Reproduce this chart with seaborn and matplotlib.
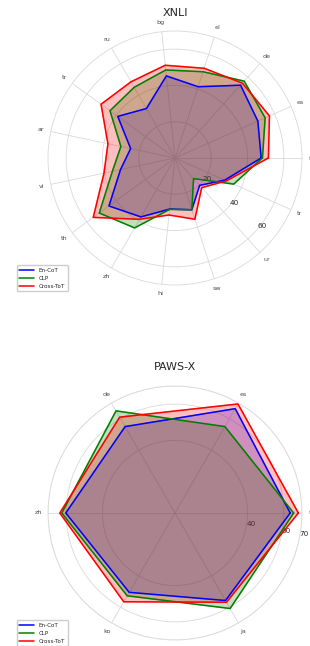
import numpy as np
import matplotlib
matplotlib.use('Agg')
import matplotlib.pyplot as plt
import seaborn as sns

# XNLI scores per language (counterclockwise from 0 deg)
xnli_langs = ['fr', 'es', 'de', 'el', 'bg', 'ru', 'tr', 'ar', 'vi', 'th', 'zh', 'hi', 'sw', 'ur', 'tr']
xnli_en_cot = [47.5, 50.0, 54.0, 41.3, 45.5, 31.5, 39.0, 25.0, 30.7, 45.0, 37.5, 28.3, 30.0, 20.3, 30.0]
xnli_clp = [48.2, 54.4, 57.0, 50.0, 48.8, 45.0, 44.3, 30.5, 35.3, 51.6, 44.5, 28.5, 30.0, 15.3, 35.4]
xnli_cross_tot = [51.5, 57.0, 55.5, 52.0, 51.4, 48.5, 50.4, 37.8, 40.0, 55.7, 39.0, 31.6, 35.5, 22.0, 31.0]

# PAWS-X scores per language
paws_langs = ['fr', 'es', 'de', 'zh', 'ko', 'ja']
paws_en_cot = [63.5, 66.4, 55.0, 60.2, 50.5, 55.7]
paws_clp = [65.4, 55.0, 65.0, 62.4, 52.7, 60.8]
paws_cross_tot = [68.0, 69.4, 61.0, 63.5, 56.5, 56.8]

methods = ['En-CoT', 'CLP', 'Cross-ToT']
colors = ['blue', 'green', 'red']


def radar(ax, title, langs, series, yticks, rlabel_pos, title_y):
    """Draw one radar panel."""
    n = len(langs)
    angles = np.linspace(0, 2 * np.pi, n, endpoint=False)
    closed = np.concatenate([angles, angles[:1]])
    for name, vals, col in zip(methods, series, colors):
        v = np.concatenate([vals, vals[:1]])
        sns.lineplot(x=closed, y=v, ax=ax, color=col, linewidth=1.1,
                     sort=False, estimator=None, label=name, legend=False)
        ax.fill(closed, v, color=col, alpha=0.25)
    ax.set_xticks(angles)
    ax.set_xticklabels(langs, fontsize=4.6, color='.3')
    ax.tick_params(axis='x', pad=-6)
    ax.set_ylim(0, 70)
    ax.set_yticks(yticks)
    ax.set_yticklabels([str(t) for t in yticks], fontsize=5.2, color='.15')
    ax.set_rlabel_position(rlabel_pos)
    ax.grid(color='.85', linewidth=0.6)
    ax.spines['polar'].set_color('.85')
    ax.spines['polar'].set_linewidth(0.6)
    ax.set_xlabel('')
    ax.set_ylabel('')
    ax.set_title(title, fontsize=8, y=title_y, pad=0)
    ax.legend(loc='upper left', bbox_to_anchor=(-0.135, 0.09), fontsize=4.1,
              handlelength=2.6, frameon=True, framealpha=1, edgecolor='.8',
              borderpad=0.5, labelspacing=0.5, handletextpad=0.8)


sns.set_theme(style='whitegrid')
plt.rcParams['font.family'] = ['DejaVu Sans']

fig = plt.figure(figsize=(3.1, 6.46), dpi=100)
ax1 = fig.add_axes([48 / 310, 361 / 646, 254 / 310, 254 / 646], projection='polar')
ax2 = fig.add_axes([48 / 310, 6 / 646, 254 / 310, 254 / 646], projection='polar')

radar(ax1, 'XNLI', xnli_langs, [xnli_en_cot, xnli_clp, xnli_cross_tot],
      [20, 40, 60], -41, 1.058)
radar(ax2, 'PAWS-X', paws_langs, [paws_en_cot, paws_clp, paws_cross_tot],
      [40, 60, 70], -11, 1.062)

fig.savefig('out.png', dpi=100)
